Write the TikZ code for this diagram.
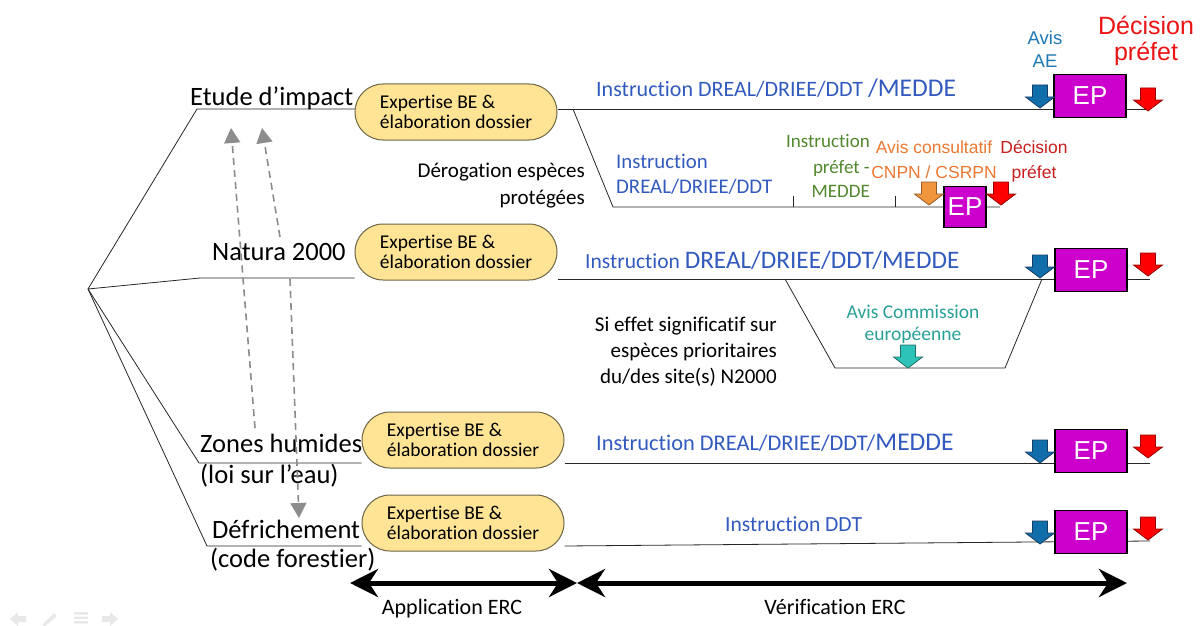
\documentclass[tikz,border=0pt]{standalone}
\usepackage{fontspec}
\setmainfont{Carlito}[Ligatures={NoCommon}]
\newfontfamily\arialf{Liberation Sans}[Ligatures={NoCommon}]
\usetikzlibrary{arrows.meta,shapes.misc}
\definecolor{instblue}{RGB}{50,90,190}
\definecolor{aeblue}{RGB}{30,120,180}
\definecolor{arrblue}{RGB}{16,110,170}
\definecolor{arrblueD}{RGB}{25,60,100}
\definecolor{decred}{RGB}{235,20,20}
\definecolor{darkred}{RGB}{200,30,30}
\definecolor{arrred}{RGB}{255,0,0}
\definecolor{arrredD}{RGB}{150,0,0}
\definecolor{epfill}{RGB}{204,0,204}
\definecolor{expfill}{RGB}{255,228,150}
\definecolor{expdraw}{RGB}{110,100,70}
\definecolor{grn}{RGB}{80,135,45}
\definecolor{orng}{RGB}{235,120,50}
\definecolor{orngarr}{RGB}{240,150,60}
\definecolor{orngarrD}{RGB}{150,90,40}
\definecolor{tealtxt}{RGB}{40,160,150}
\definecolor{tealarr}{RGB}{45,195,185}
\definecolor{tealarrD}{RGB}{30,110,105}
\definecolor{dgray}{RGB}{140,140,140}
\definecolor{navgray}{RGB}{232,232,232}
\begin{document}
\begin{tikzpicture}[x=1pt,y=-1pt,
  lab/.style={inner sep=0pt, font=\fontsize{26.5}{30}\selectfont},
  note/.style={inner sep=0pt, font=\fontsize{21}{23}\selectfont},
  ercl/.style={inner sep=0pt, font=\fontsize{22}{24}\selectfont},
  expbox/.style={rounded rectangle, draw=expdraw, line width=1pt, fill=expfill,
    minimum width=202pt, minimum height=56pt, inner sep=0pt, align=left,
    font=\fontsize{19.5}{20.5}\selectfont},
  epbox/.style={draw=black, line width=1.3pt, fill=epfill, text=white, inner sep=0pt,
    font=\arialf\fontsize{26}{26}\selectfont, minimum width=72pt, minimum height=43pt},
  rowline/.style={line width=0.8pt, draw=black!85},
  inst/.style={inner sep=0pt, text=instblue},
  dasharr/.style={draw=dgray, line width=1.6pt, dash pattern=on 7pt off 5pt,
    -{Triangle[length=15pt,width=16pt,fill=dgray]}},
  ercarr/.style={line width=5pt, {Stealth[length=28pt,width=28pt,inset=9pt]}-{Stealth[length=28pt,width=28pt,inset=9pt]}},
  blockarrow/.pic={\path[pic actions] (-7.5,-12) -- (7.5,-12) -- (7.5,0) -- (14.5,0) -- (0,11) -- (-14.5,0) -- (-7.5,0) -- cycle;},
  bluearr/.style={fill=arrblue, draw=arrblueD, line width=0.8pt},
  redarr/.style={fill=arrred, draw=arrredD, line width=0.8pt},
  navicon/.style={fill=navgray, draw=none},
]
\useasboundingbox (0,0) rectangle (1200,626);

% ---------- root and branch corners ----------
\coordinate (root) at (88,289);
\coordinate (c1) at (197,109);
\coordinate (c2) at (200,278);
\coordinate (c3) at (199,463);
\coordinate (c4) at (207,546);

% ---------- expertise boxes ----------
\node[expbox] (ex1) at (456,112) {Expertise BE \&\\élaboration dossier};
\node[expbox] (ex2) at (456,252) {Expertise BE \&\\élaboration dossier};
\node[expbox] (ex3) at (463,440) {Expertise BE \&\\élaboration dossier};
\node[expbox] (ex4) at (463,523) {Expertise BE \&\\élaboration dossier};

% ---------- row ends ----------
\coordinate (e1) at (1150,109);
\coordinate (e2) at (1150,279);
\coordinate (e3) at (1150,463);
\coordinate (e4) at (1150,541);

% ---------- row lines ----------
\draw[rowline] (root) -- (c1) -- (ex1.west |- c1);
\draw[rowline] (root) -- (c2) -- (ex2.west |- c2);
\draw[rowline] (root) -- (c3) -- (ex3.west |- c3);
\draw[rowline] (root) -- (c4) -- (ex4.west |- c4);
\draw[rowline] (ex1.east |- e1) -- (e1);
\draw[rowline] (ex2.east |- e2) -- (e2);
\draw[rowline] (ex3.east |- e3) -- (e3);
\draw[rowline] (ex4.east |- c4) -- (e4);

% ---------- dérogation branch ----------
\coordinate (d0) at (573,109);
\coordinate (d1) at (613,207);
\coordinate (d2) at (1000,207);
\coordinate (t1a) at (793,196);
\coordinate (t1b) at (793,207);
\coordinate (t2a) at (895,196);
\coordinate (t2b) at (895,207);
\draw[rowline] (d0) -- (d1) -- (d2);
\draw[rowline] (t1a) -- (t1b);
\draw[rowline] (t2a) -- (t2b);

% ---------- Natura trapezoid ----------
\coordinate (n0) at (785,279);
\coordinate (n1) at (835,368);
\coordinate (n2) at (1005,368);
\coordinate (n3) at (1042,279);
\draw[rowline] (n0) -- (n1) -- (n2) -- (n3);

% ---------- left labels ----------
\node[lab, anchor=base west] (lei) at (190,106) {Etude d’impact};
\node[lab, anchor=base west] (lna) at (212,260) {Natura 2000};
\node[lab, anchor=base west] (lzh) at (200,452) {Zones humides};
\node[lab, anchor=base west] (lzh2) at (200,483) {(loi sur l’eau)};
\node[lab, anchor=base west] (ldf) at (212,538) {Défrichement};
\node[lab, anchor=base west] (ldf2) at (210,567) {(code forestier)};

\node[note, anchor=base east] (der1) at (585,177) {Dérogation espèces};
\node[note, anchor=base east] (der2) at (585,204) {protégées};
\node[note, anchor=base east] (si1) at (777,331) {Si effet significatif sur};
\node[note, anchor=base east] (si2) at (777,357) {espèces prioritaires};
\node[note, anchor=base east] (si3) at (777,383) {du/des site(s) N2000};

% ---------- instruction texts ----------
\node[inst, anchor=base west] (i1) at (596,96) {\fontsize{22}{24}\selectfont Instruction DREAL/DRIEE/DDT \fontsize{25.5}{27}\selectfont/MEDDE};
\node[inst, anchor=base west] (i2) at (585,268) {\fontsize{21.5}{23}\selectfont Instruction \fontsize{25.2}{27}\selectfont DREAL/DRIEE/DDT/MEDDE};
\node[inst, anchor=base west] (i3) at (596,450) {\fontsize{22.4}{24}\selectfont Instruction DREAL/DRIEE/DDT/\fontsize{25.5}{27}\selectfont MEDDE};
\node[inst, anchor=base west, font=\fontsize{21.6}{23}\selectfont] (i4) at (725,531) {Instruction DDT};
\node[inst, anchor=base west, font=\fontsize{20.8}{22}\selectfont] (i5a) at (616,168) {Instruction};
\node[inst, anchor=base west, font=\fontsize{20.8}{22}\selectfont] (i5b) at (616,193) {DREAL/DRIEE/DDT};

% ---------- dérogation annotations ----------
\node[inner sep=0pt, anchor=base east, text=grn, font=\fontsize{19}{20}\selectfont] (g1) at (870,147) {Instruction};
\node[inner sep=0pt, anchor=base east, text=grn, font=\fontsize{19}{20}\selectfont] (g2) at (870,173) {préfet -};
\node[inner sep=0pt, anchor=base east, text=grn, font=\fontsize{19}{20}\selectfont] (g3) at (870,197) {MEDDE};
\node[inner sep=0pt, anchor=base, text=orng, font=\arialf\fontsize{17.5}{20}\selectfont] (o1) at (934,153) {Avis consultatif};
\node[inner sep=0pt, anchor=base, text=orng, font=\arialf\fontsize{17.5}{20}\selectfont] (o2) at (934,178) {CNPN / CSRPN};
\node[inner sep=0pt, anchor=base, text=darkred, font=\arialf\fontsize{17.5}{20}\selectfont] (r1) at (1034,153) {Décision};
\node[inner sep=0pt, anchor=base, text=darkred, font=\arialf\fontsize{17.5}{20}\selectfont] (r2) at (1034,178) {préfet};

% ---------- top annotations ----------
\node[inner sep=0pt, anchor=base, text=aeblue, font=\arialf\fontsize{18.5}{20}\selectfont] (ae1) at (1045,45) {Avis};
\node[inner sep=0pt, anchor=base, text=aeblue, font=\arialf\fontsize{18.5}{20}\selectfont] (ae2) at (1045,67) {AE};
\node[inner sep=0pt, anchor=base, text=decred, font=\arialf\fontsize{25}{28}\selectfont] (dp1) at (1146,35) {Décision};
\node[inner sep=0pt, anchor=base, text=decred, font=\arialf\fontsize{25}{28}\selectfont] (dp2) at (1146,60) {préfet};

% ---------- Natura annotation ----------
\node[inner sep=0pt, anchor=base, text=tealtxt, font=\fontsize{19.5}{20}\selectfont] (ac1) at (913,318) {Avis Commission};
\node[inner sep=0pt, anchor=base, text=tealtxt, font=\fontsize{19.5}{20}\selectfont] (ac2) at (913,340) {européenne};

% ---------- EP boxes ----------
\node[epbox] (ep1) at (1090,96) {EP};
\node[epbox] (ep2) at (1091,270) {EP};
\node[epbox] (ep3) at (1091,451) {EP};
\node[epbox] (ep4) at (1091,532) {EP};
\node[epbox, minimum width=42pt, minimum height=41pt] (ep5) at (965,207) {EP};

% ---------- block arrows ----------
\pic[bluearr] at (1040,97) {blockarrow};
\pic[redarr]  at (1148,100) {blockarrow};
\pic[bluearr] at (1040,267) {blockarrow};
\pic[redarr]  at (1148,265) {blockarrow};
\pic[bluearr] at (1040,452) {blockarrow};
\pic[redarr]  at (1148,447) {blockarrow};
\pic[bluearr] at (1040,533) {blockarrow};
\pic[redarr]  at (1148,529) {blockarrow};
\pic[fill=orngarr, draw=orngarrD, line width=0.8pt] at (929,194) {blockarrow};
\pic[redarr] at (1001,194) {blockarrow};
\pic[fill=tealarr, draw=tealarrD, line width=0.8pt] at (908,357) {blockarrow};

% ---------- dashed cross-links ----------
\coordinate (da0) at (255,428);
\coordinate (da1) at (231,128);
\coordinate (db0) at (280,237);
\coordinate (db1) at (262,128);
\coordinate (dc0) at (290,279);
\coordinate (dc1) at (299,518);
\draw[dasharr] (da0) -- (da1);
\draw[dasharr] (db0) -- (db1);
\draw[dasharr] (dc0) -- (dc1);

% ---------- ERC arrows ----------
\coordinate (erc0) at (350,583);
\coordinate (erc1) at (577,583);
\coordinate (erc2) at (1127,583);
\draw[ercarr] (erc0) -- (erc1);
\draw[ercarr] (erc1) -- (erc2);
\node[ercl, anchor=base] (app) at (452,614) {Application ERC};
\node[ercl, anchor=base] (ver) at (835,614) {Vérification ERC};

% ---------- faint navigation icons ----------
\path[navicon] (10,619) -- (18,612) -- (18,616) -- (26,616) -- (26,622) -- (18,622) -- (18,626) -- cycle;
\path[navicon] (42,625) -- (54,613) -- (57,616) -- (45,626) -- cycle;
\path[navicon] (74,612) rectangle (88,614.5) (74,616.5) rectangle (88,619) (74,621) rectangle (88,623.5);
\path[navicon] (118,619) -- (110,612) -- (110,616) -- (102,616) -- (102,622) -- (110,622) -- (110,626) -- cycle;
\end{tikzpicture}
\end{document}
